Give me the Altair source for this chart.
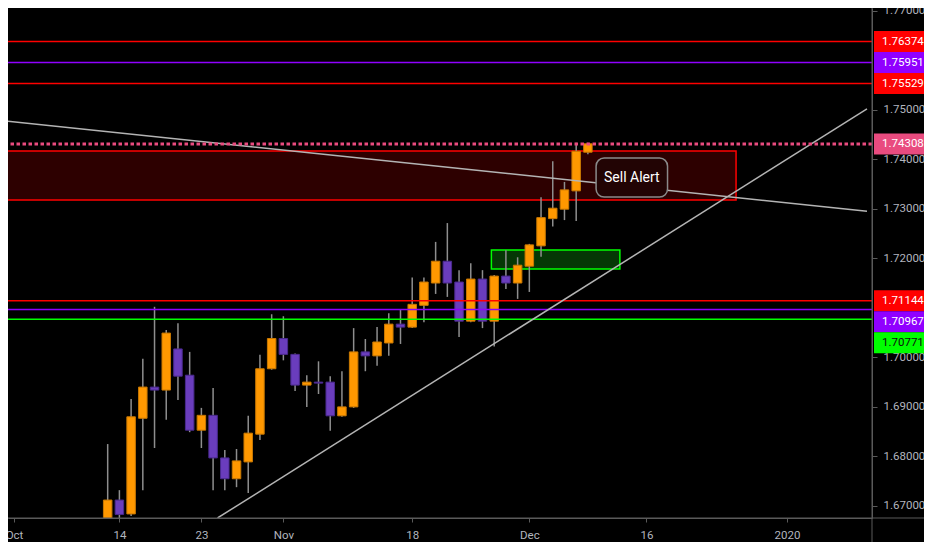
import altair as alt
import pandas as pd

# ---------------- data ----------------
bar_idx = list(range(8, 50))  # trading-day index, 0 = 1 Oct 2019
opens = [1.6670, 1.6712, 1.6684, 1.6877, 1.6940, 1.6934, 1.7017, 1.6964, 1.6853, 1.6883,
         1.6797, 1.6755, 1.6789, 1.6845, 1.6977, 1.7038, 1.7006, 1.6944, 1.6950, 1.6950,
         1.6882, 1.6900, 1.7011, 1.7003, 1.7029, 1.7067, 1.7061, 1.7105, 1.7150, 1.7194,
         1.7152, 1.7073, 1.7158, 1.7073, 1.7164, 1.7150, 1.7184, 1.7225, 1.7280, 1.7299,
         1.7336, 1.7414]
highs = [1.6825, 1.6732, 1.6916, 1.6997, 1.7102, 1.7055, 1.7069, 1.7011, 1.6898, 1.6938,
         1.6813, 1.6815, 1.6882, 1.7005, 1.7087, 1.7083, 1.7008, 1.6964, 1.6992, 1.6962,
         1.6972, 1.7059, 1.7037, 1.7061, 1.7089, 1.7097, 1.7161, 1.7161, 1.7233, 1.7271,
         1.7176, 1.7190, 1.7176, 1.7166, 1.7216, 1.7202, 1.7229, 1.7323, 1.7396, 1.7354,
         1.7433, 1.7433]
lows = [1.6660, 1.6668, 1.6680, 1.6732, 1.6817, 1.6874, 1.6914, 1.6849, 1.6817, 1.6732,
        1.6732, 1.6738, 1.6726, 1.6833, 1.6975, 1.6994, 1.6932, 1.6900, 1.6926, 1.6852,
        1.6880, 1.6898, 1.6972, 1.6983, 1.7003, 1.7027, 1.7059, 1.7071, 1.7128, 1.7122,
        1.7041, 1.7071, 1.7059, 1.7022, 1.7138, 1.7118, 1.7132, 1.7203, 1.7264, 1.7277,
        1.7275, 1.7410]
closes = [1.6712, 1.6683, 1.6880, 1.6940, 1.6934, 1.7049, 1.6962, 1.6853, 1.6883, 1.6797,
          1.6755, 1.6791, 1.6847, 1.6977, 1.7038, 1.7006, 1.6944, 1.6950, 1.6948, 1.6882,
          1.6900, 1.7011, 1.7003, 1.7031, 1.7067, 1.7061, 1.7107, 1.7152, 1.7194, 1.7150,
          1.7073, 1.7158, 1.7073, 1.7164, 1.7150, 1.7186, 1.7227, 1.7282, 1.7301, 1.7338,
          1.7416, 1.7431]

tick_idx = [0, 9, 16, 23, 34, 44, 54, 66]
tick_lbl = ["Oct", "14", "23", "Nov", "18", "Dec", "16", "2020"]
# 1.76 and 1.71 are hidden behind the price tags in the reference
price_ticks = [1.67, 1.68, 1.69, 1.70, 1.72, 1.73, 1.74, 1.75, 1.77]

level_price = [1.76374, 1.75951, 1.75529, 1.71144, 1.70967, 1.70771]
level_kind = ["red", "violet", "red", "red", "violet", "green"]
alert_price = 1.74308

zone_idx = [-1.0, 61.65]
zone_price = [1.73176, 1.74164]
buy_idx = [40.76, 51.73]
buy_price = [1.71783, 1.72166]
note_idx = [49.7, 55.8]
note_price = [1.73236, 1.74023]
note_text = "Sell Alert"

trend_name = ["falling", "falling", "rising", "rising"]
trend_idx = [-0.76, 72.83, 17.38, 72.83]
trend_price = [1.74770, 1.72950, 1.66758, 1.75016]

# ---------------- layout ----------------
W, H = 864, 510
X_DOM = [-0.084, 72.83]
Y_DOM = [1.667578, 1.770505]
FONT = "Roboto"
FS = 11.5
AX = "#5a5a5a"
LBL = "#b2b5be"

kind_dom = ["red", "violet", "green", "alert"]
kind_rng = ["#FF0000", "#9000FF", "#00FF00", "#E94B7F"]

xs = alt.Scale(domain=X_DOM, nice=False, zero=False)
ys = alt.Scale(domain=Y_DOM, nice=False, zero=False)

label_expr = " : ".join(f"datum.value == {v} ? '{t}'" for v, t in zip(tick_idx, tick_lbl)) + " : ''"
x_axis = alt.Axis(values=tick_idx, labelExpr=label_expr, title=None, grid=False,
                  tickSize=4, labelPadding=7, labelFontSize=FS, labelFont=FONT,
                  labelColor=LBL, domainColor=AX, tickColor=AX, labelFlush=5,
                  labelOverlap=False)
y_axis = alt.Axis(orient="right", values=price_ticks, format=".5f", title=None, grid=False,
                  tickSize=5, labelPadding=6, labelFontSize=FS, labelFont=FONT,
                  labelColor=LBL, domainColor=AX, tickColor=AX, labelOverlap=False)


def X(f):
    return alt.X(f, type="quantitative", scale=xs, axis=x_axis)


def Y(f):
    return alt.Y(f, type="quantitative", scale=ys, axis=y_axis)


candles = pd.DataFrame({"i": bar_idx, "open": opens, "high": highs, "low": lows, "close": closes})
candles["dir"] = ["up" if c >= o else "down" for o, c in zip(opens, closes)]

wicks = alt.Chart(candles).mark_rule(color="#8e8e8e", strokeWidth=1.5, clip=True).encode(
    x=X("i"), y=Y("low"), y2="high")
bodies = alt.Chart(candles).mark_bar(size=8.5, strokeWidth=1, clip=True).encode(
    x=X("i"), y=Y("open"), y2="close",
    color=alt.Color("dir:N", scale=alt.Scale(domain=["up", "down"], range=["#FF9800", "#6A3DBD"]), legend=None),
    stroke=alt.Stroke("dir:N", scale=alt.Scale(domain=["up", "down"], range=["#C97800", "#4A2A8E"]), legend=None))

zone = alt.Chart(pd.DataFrame({"x": [zone_idx[0]], "x2": [zone_idx[1]],
                               "y": [zone_price[0]], "y2": [zone_price[1]]})).mark_rect(
    fill="#2d0000", stroke="#FF0000", strokeWidth=1.5, clip=True).encode(
    x=X("x"), x2="x2", y=Y("y"), y2="y2")
buy = alt.Chart(pd.DataFrame({"x": [buy_idx[0]], "x2": [buy_idx[1]],
                              "y": [buy_price[0]], "y2": [buy_price[1]]})).mark_rect(
    fill="#053805", stroke="#00FF00", strokeWidth=1.5, clip=True).encode(
    x=X("x"), x2="x2", y=Y("y"), y2="y2")

levels = pd.DataFrame({"price": level_price, "kind": level_kind})
level_rules = alt.Chart(levels).mark_rule(strokeWidth=1.5, clip=True).encode(
    y=Y("price"),
    color=alt.Color("kind:N", scale=alt.Scale(domain=kind_dom, range=kind_rng), legend=None))

alert_rule = alt.Chart(pd.DataFrame({"price": [alert_price]})).mark_rule(
    color="#E94B7F", strokeWidth=3, strokeDash=[3.5, 2.5], clip=True).encode(y=Y("price"))

trends = alt.Chart(pd.DataFrame({"name": trend_name, "i": trend_idx, "price": trend_price})).mark_line(
    color="#b4b4b4", strokeWidth=1.5, clip=True).encode(
    x=X("i"), y=Y("price"), detail="name:N")

note_box = alt.Chart(pd.DataFrame({"x": [note_idx[0]], "x2": [note_idx[1]],
                                   "y": [note_price[0]], "y2": [note_price[1]]})).mark_rect(
    fill="#220404", stroke="#8a8a8a", strokeWidth=1.5, cornerRadius=8, clip=True).encode(
    x=X("x"), x2="x2", y=Y("y"), y2="y2")
note_lbl = alt.Chart(pd.DataFrame({"x": [(note_idx[0] + note_idx[1]) / 2],
                                   "y": [(note_price[0] + note_price[1]) / 2],
                                   "t": [note_text]})).mark_text(
    color="#FFFFFF", fontSize=14, font=FONT, align="center", baseline="middle").encode(
    x=X("x"), y=Y("y"), text="t:N")

# price tags on the axis, pushed apart so they do not overlap
ppx = (Y_DOM[1] - Y_DOM[0]) / H
BOX_H = 21.0
tags = sorted(zip(level_price + [alert_price], level_kind + ["alert"]), key=lambda r: -r[0])
rows, prev = [], -1e9
for p, k in tags:
    c = max((Y_DOM[1] - p) / ppx, prev + BOX_H)
    prev = c
    rows.append({"kind": k, "label": f"{p:.5f}",
                 "yc": Y_DOM[1] - c * ppx,
                 "yt": Y_DOM[1] - (c - BOX_H / 2) * ppx,
                 "yb": Y_DOM[1] - (c + BOX_H / 2) * ppx})
tag_df = pd.DataFrame(rows)
tag_boxes = alt.Chart(tag_df).mark_rect(clip=False).encode(
    x=alt.value(W + 2), x2=alt.value(W + 52), y=Y("yt"), y2="yb",
    color=alt.Color("kind:N", scale=alt.Scale(domain=kind_dom, range=kind_rng), legend=None))
tag_text = alt.Chart(tag_df).mark_text(fontSize=FS, font=FONT, align="left", baseline="middle",
                                       clip=False).encode(
    x=alt.value(W + 10), y=Y("yc"), text="label:N",
    color=alt.condition(alt.datum.kind == "green", alt.value("#0d0d0d"), alt.value("#FFFFFF")))

one = pd.DataFrame({"a": [0]})
vsep = alt.Chart(one).mark_rule(color=AX, strokeWidth=1, clip=False).encode(
    x=alt.value(W), y=alt.value(0), y2=alt.value(H + 24))
hsep = alt.Chart(one).mark_rule(color=AX, strokeWidth=1, clip=False).encode(
    x=alt.value(0), x2=alt.value(W + 52), y=alt.value(H))

chart = alt.layer(
    zone, buy, wicks, bodies, level_rules, trends, alert_rule, note_box, note_lbl,
    hsep, vsep, tag_boxes, tag_text
).resolve_scale(
    color="independent", stroke="independent"
).properties(
    width=W, height=H,
    autosize=alt.AutoSizeParams(type="none"),
    padding={"left": 0, "top": 0, "right": 52, "bottom": 24},
    background="#000000",
).configure_view(strokeWidth=0)

chart.save("out.html", embed_options={"renderer": "svg", "actions": False})
